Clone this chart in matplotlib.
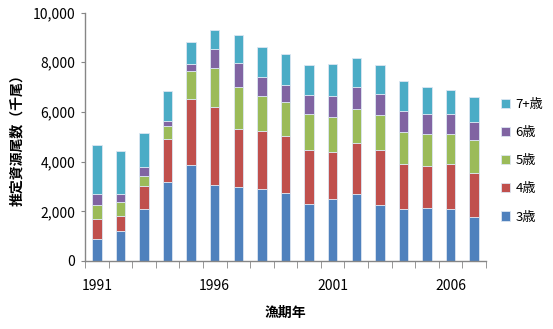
import matplotlib
matplotlib.use("Agg")
import matplotlib.pyplot as plt
import numpy as np
from matplotlib.ticker import FuncFormatter, FixedLocator

plt.rcParams['font.family'] = ['Noto Sans CJK JP', 'DejaVu Sans']

years = list(range(1991, 2008))
age3 = [870, 1190, 2080, 3180, 3850, 3050, 2970, 2900, 2720, 2280, 2480, 2680, 2240, 2080, 2150, 2080, 1760]
age4 = [830, 630, 950, 1730, 2680, 3140, 2360, 2350, 2320, 2190, 1890, 2080, 2230, 1820, 1690, 1820, 1800]
age5 = [540, 550, 400, 520, 1100, 1580, 1680, 1370, 1340, 1450, 1430, 1360, 1410, 1290, 1260, 1200, 1300]
age6 = [470, 330, 340, 190, 310, 770, 940, 800, 710, 740, 850, 900, 860, 860, 800, 800, 750]
age7 = [1950, 1720, 1370, 1210, 890, 760, 1130, 1210, 1250, 1220, 1280, 1140, 1140, 1210, 1100, 970, 970]
series = [("3歳", age3), ("4歳", age4), ("5歳", age5), ("6歳", age6), ("7+歳", age7)]
colors = ["#4F81BD", "#C0504D", "#9BBB59", "#8064A2", "#4BACC6"]
tick_years = [1991, 1996, 2001, 2006]

fig = plt.figure(figsize=(5.53, 3.29), dpi=100)
ax = fig.add_axes([85/553, 1-261/329, (486-85)/553, (261-12.5)/329])

x = np.arange(len(years))
bottom = np.zeros(len(years))
handles = []
for (name, vals), c in zip(series, colors):
    v = np.array(vals, dtype=float)
    b = ax.bar(x, v, width=0.4, bottom=bottom, color=c, edgecolor="#DCE6F2", linewidth=0.6, label=name)
    handles.append(b)
    bottom += v

ax.set_xlim(-0.5, len(years) - 0.5)
ax.set_ylim(0, 10000)
ax.set_yticks(np.arange(0, 10001, 2000))
ax.yaxis.set_major_formatter(FuncFormatter(lambda v, p: f"{int(v):,}"))
ax.tick_params(axis='y', length=3, color="#868686", labelsize=10, pad=4)

ax.set_xticks([years.index(y) for y in tick_years])
ax.set_xticklabels([str(y) for y in tick_years])
ax.tick_params(axis='x', which='major', length=0, labelsize=10, pad=13)
ax.xaxis.set_minor_locator(FixedLocator(np.arange(-0.5, len(years), 1.0)))
ax.tick_params(axis='x', which='minor', length=5, color="#868686")

for s in ["top", "right"]:
    ax.spines[s].set_visible(False)
for s in ["left", "bottom"]:
    ax.spines[s].set_color("#868686")
    ax.spines[s].set_linewidth(1.0)

ax.set_ylabel("推定資源尾数（千尾）", fontsize=10, fontweight='bold', labelpad=6)
ax.set_xlabel("漁期年", fontsize=10, fontweight='bold', labelpad=9)

leg = fig.legend(handles[::-1], [s[0] for s in series][::-1], loc='upper left',
                 bbox_to_anchor=(489/553, 1-86/329), frameon=False, fontsize=9.5,
                 handlelength=0.7, handleheight=0.7, labelspacing=1.15, handletextpad=0.4)

fig.savefig("out.png", dpi=100)
